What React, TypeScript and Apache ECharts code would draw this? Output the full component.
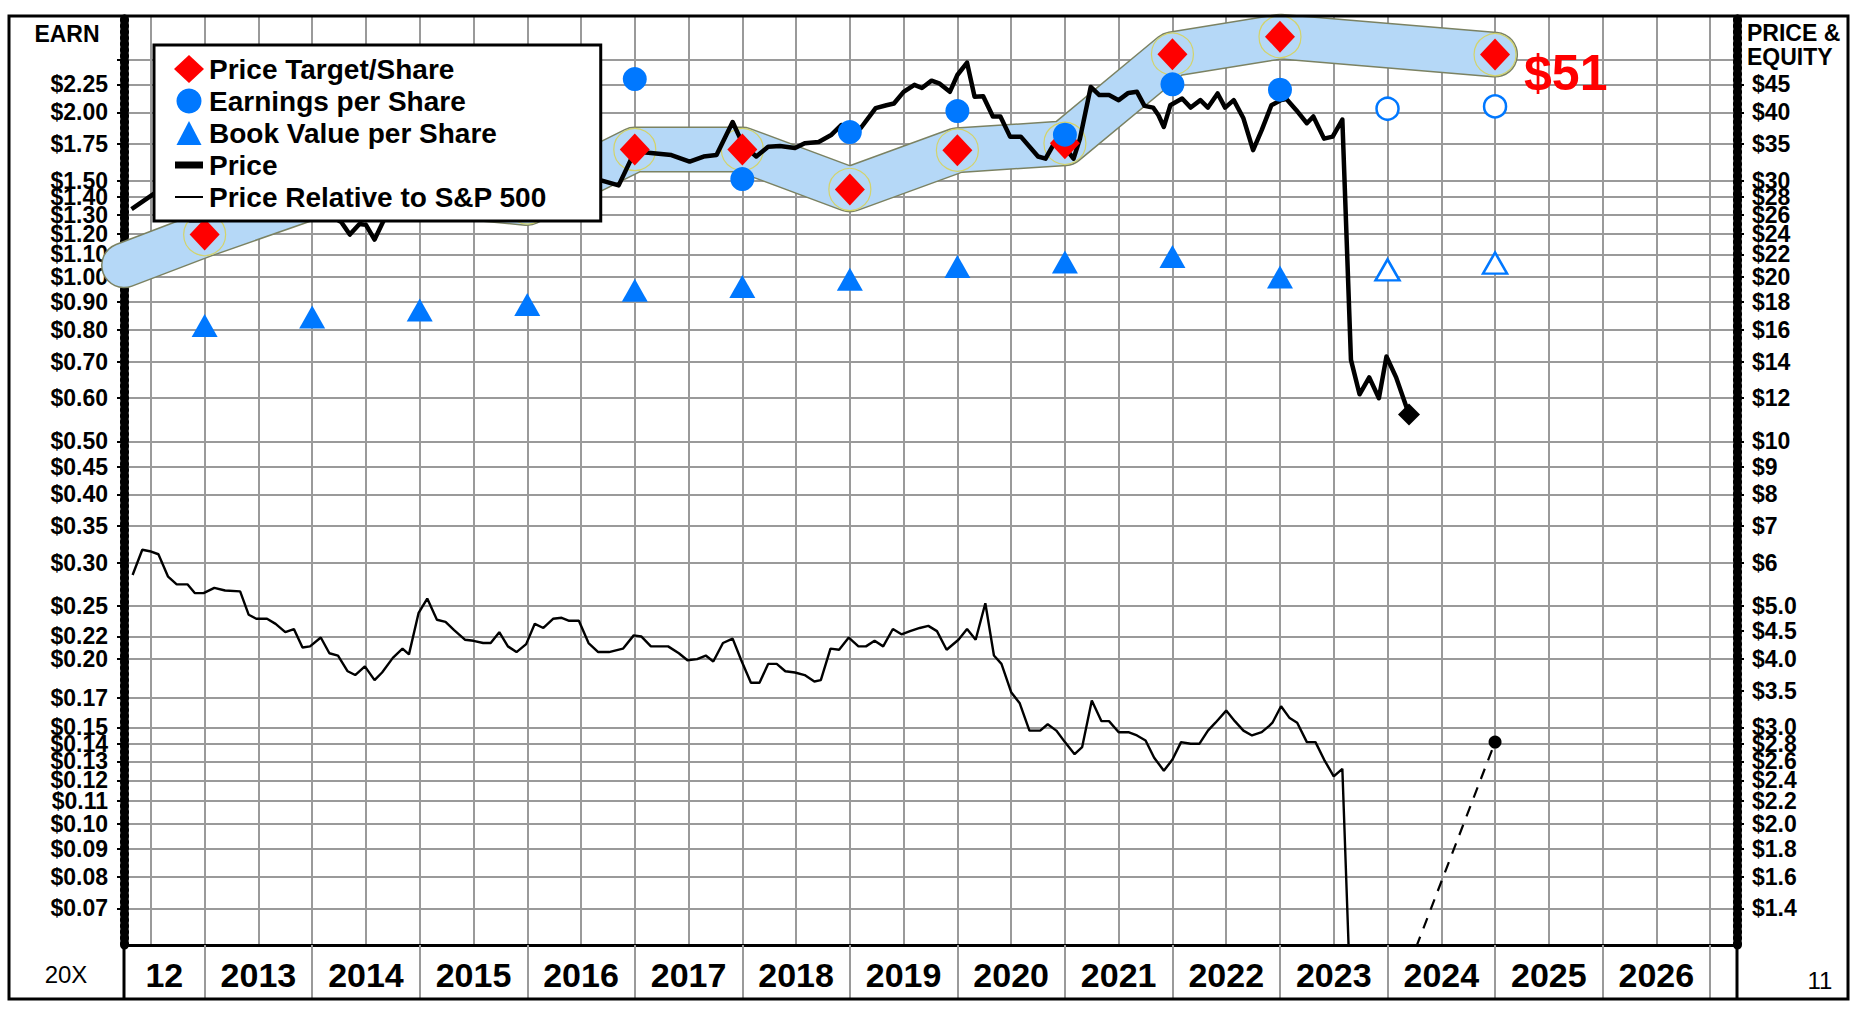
import React, { useEffect, useRef } from 'react';
import * as echarts from 'echarts';

const FONT = "'Liberation Sans', Arial, Helvetica, sans-serif";

// ---------- data ----------
const priceYears = [
  2012.32, 2012.54, 2012.7, 2012.86, 2012.98, 2013.15, 2013.4, 2013.66, 2013.8, 2013.98,
  2014.12, 2014.27, 2014.35, 2014.44, 2014.5, 2014.58, 2014.67, 2014.8, 2015.0, 2015.25,
  2015.5, 2015.75, 2016.0, 2016.25, 2016.5, 2016.67, 2016.85, 2017.0, 2017.15, 2017.34,
  2017.51, 2017.64, 2017.76, 2017.91, 2018.01, 2018.13, 2018.24, 2018.35, 2018.49, 2018.58,
  2018.71, 2018.83, 2018.92, 2019.1, 2019.24, 2019.34, 2019.41, 2019.5, 2019.6, 2019.67,
  2019.76, 2019.83, 2019.93, 2020.0, 2020.09, 2020.16, 2020.24, 2020.33, 2020.4, 2020.49,
  2020.59, 2020.75, 2020.82, 2020.9, 2020.99, 2021.08, 2021.14, 2021.24, 2021.32, 2021.41,
  2021.5, 2021.59, 2021.67, 2021.74, 2021.82, 2021.87, 2021.92, 2021.98, 2022.09, 2022.17,
  2022.26, 2022.33, 2022.42, 2022.49, 2022.57, 2022.66, 2022.75, 2022.83, 2022.92, 2023.01,
  2023.06, 2023.15, 2023.25, 2023.31, 2023.41, 2023.49, 2023.58, 2023.66, 2023.74, 2023.83,
  2023.92, 2023.99, 2024.08, 2024.2,
];
const priceValues = [
  26.6, 28.5, 27.3, 25.4, 25.4, 26.6, 26.4, 25.6, 25.9, 25.5,
  26.2, 25.2, 23.9, 25.0, 24.9, 23.4, 25.5, 27.5, 28.6, 29.6,
  28.2, 29.1, 28.4, 30.3, 31.0, 30.1, 29.4, 33.9, 33.7, 33.4,
  32.5, 33.2, 33.4, 38.4, 34.8, 33.2, 34.6, 34.7, 34.4, 35.1,
  35.3, 36.4, 37.9, 37.4, 40.7, 41.2, 41.5, 43.6, 44.9, 44.3,
  45.7, 45.2, 43.6, 46.8, 49.3, 42.7, 42.8, 39.3, 39.3, 36.1,
  36.1, 33.2, 32.9, 35.1, 34.7, 32.9, 35.8, 44.5, 43.0, 43.0,
  42.1, 43.4, 43.6, 41.1, 40.8, 39.5, 37.6, 41.2, 42.4, 40.8,
  42.1, 40.8, 43.3, 40.8, 42.1, 39.0, 34.1, 37.1, 41.2, 42.1,
  42.3, 40.4, 38.2, 39.3, 35.8, 36.1, 38.8, 14.1, 12.2, 13.1,
  12.0, 14.3, 13.1, 11.2,
];

const relYears = [
  2012.33, 2012.42, 2012.49, 2012.57, 2012.66, 2012.74, 2012.84, 2012.91, 2012.99, 2013.09,
  2013.19, 2013.33, 2013.41, 2013.48, 2013.58, 2013.66, 2013.75, 2013.83, 2013.91, 2013.98,
  2014.08, 2014.16, 2014.24, 2014.33, 2014.4, 2014.49, 2014.58, 2014.65, 2014.75, 2014.84,
  2014.9, 2014.99, 2015.07, 2015.16, 2015.24, 2015.32, 2015.42, 2015.5, 2015.59, 2015.66,
  2015.74, 2015.82, 2015.9, 2015.99, 2016.07, 2016.15, 2016.24, 2016.32, 2016.39, 2016.48,
  2016.57, 2016.66, 2016.76, 2016.89, 2016.99, 2017.06, 2017.15, 2017.31, 2017.41, 2017.49,
  2017.58, 2017.66, 2017.73, 2017.82, 2017.91, 2017.99, 2018.08, 2018.16, 2018.24, 2018.32,
  2018.4, 2018.49, 2018.58, 2018.67, 2018.73, 2018.82, 2018.9, 2018.99, 2019.08, 2019.15,
  2019.23, 2019.31, 2019.4, 2019.48, 2019.56, 2019.65, 2019.73, 2019.81, 2019.9, 2020.01,
  2020.09, 2020.17, 2020.26, 2020.34, 2020.41, 2020.5, 2020.58, 2020.67, 2020.77, 2020.84,
  2020.92, 2021.0, 2021.09, 2021.16, 2021.25, 2021.34, 2021.41, 2021.5, 2021.59, 2021.67,
  2021.75, 2021.83, 2021.92, 2022.0, 2022.08, 2022.17, 2022.25, 2022.33, 2022.4, 2022.5,
  2022.58, 2022.66, 2022.74, 2022.83, 2022.9, 2022.93, 2023.01, 2023.09, 2023.16, 2023.25,
  2023.33, 2023.41, 2023.5, 2023.58, 2023.66, 2023.75, 2023.85, 2023.95, 2024.05, 2024.2,
];
const relValues = [
  0.285, 0.317, 0.315, 0.311, 0.283, 0.274, 0.274, 0.264, 0.264, 0.27,
  0.267, 0.266, 0.241, 0.237, 0.237, 0.232, 0.224, 0.227, 0.21, 0.211,
  0.219, 0.205, 0.203, 0.19, 0.187, 0.194, 0.183, 0.189, 0.201, 0.209,
  0.204, 0.243, 0.258, 0.236, 0.234, 0.226, 0.217, 0.216, 0.214, 0.214,
  0.224, 0.211, 0.206, 0.213, 0.232, 0.228, 0.237, 0.238, 0.235, 0.235,
  0.214, 0.206, 0.206, 0.209, 0.221, 0.22, 0.211, 0.211, 0.205, 0.199,
  0.2, 0.203, 0.198, 0.214, 0.218, 0.199, 0.181, 0.181, 0.196, 0.196,
  0.19, 0.189, 0.187, 0.182, 0.183, 0.209, 0.208, 0.219, 0.211, 0.211,
  0.216, 0.211, 0.227, 0.222, 0.225, 0.228, 0.23, 0.225, 0.208, 0.217,
  0.227, 0.217, 0.253, 0.203, 0.196, 0.174, 0.166, 0.148, 0.148, 0.152,
  0.148, 0.141, 0.134, 0.138, 0.168, 0.154, 0.154, 0.147, 0.147, 0.145,
  0.142, 0.132, 0.125, 0.131, 0.141, 0.14, 0.14, 0.148, 0.153, 0.161,
  0.154, 0.148, 0.145, 0.147, 0.151, 0.153, 0.164, 0.156, 0.153, 0.141,
  0.141, 0.131, 0.122, 0.126, 0.045, 0.05, 0.047, 0.052, 0.05, 0.055,
];
const relTargetYear = 2025;
const relTargetValue = 0.141;

const bandStartYear = 2012.25;
const bandStartValue = 21.0;
const targetYears = [2013, 2014, 2015, 2016, 2017, 2018, 2019, 2020, 2021, 2022, 2023, 2025];
const targetValues = [23.9, 28.0, 28.5, 27.3, 34.2, 34.2, 28.9, 34.1, 35.1, 51.1, 55.0, 51.0];

const epsYears = [2017, 2018, 2019, 2020, 2021, 2022, 2023];
const epsValues = [2.3, 1.51, 1.84, 2.01, 1.82, 2.25, 2.2];
const epsEstYears = [2024, 2025];
const epsEstValues = [2.03, 2.05];

const bvYears = [2013, 2014, 2015, 2016, 2017, 2018, 2019, 2020, 2021, 2022, 2023];
const bvValues = [16.3, 16.9, 17.4, 17.8, 18.9, 19.2, 19.8, 20.9, 21.3, 21.8, 20.0];
const bvEstYears = [2024, 2025];
const bvEstValues = [20.6, 21.2];

const xLabelPositions = [2012.625, 2013.5, 2014.5, 2015.5, 2016.5, 2017.5, 2018.5, 2019.5, 2020.5, 2021.5, 2022.5, 2023.5, 2024.5, 2025.5, 2026.5];
const xLabelTexts = ['12', '2013', '2014', '2015', '2016', '2017', '2018', '2019', '2020', '2021', '2022', '2023', '2024', '2025', '2026'];
const yearBoundaries = [2013, 2014, 2015, 2016, 2017, 2018, 2019, 2020, 2021, 2022, 2023, 2024, 2025, 2026, 2027];
const halfYearLines = [2012.5, 2013, 2013.5, 2014, 2014.5, 2015, 2015.5, 2016, 2016.5, 2017, 2017.5, 2018, 2018.5, 2019, 2019.5, 2020, 2020.5, 2021, 2021.5, 2022, 2022.5, 2023, 2023.5, 2024, 2024.5, 2025, 2025.5, 2026, 2026.5, 2027];

const leftLabelVals = [2.25, 2.0, 1.75, 1.5, 1.4, 1.3, 1.2, 1.1, 1.0, 0.9, 0.8, 0.7, 0.6, 0.5, 0.45, 0.4, 0.35, 0.3, 0.25, 0.22, 0.2, 0.17, 0.15, 0.14, 0.13, 0.12, 0.11, 0.1, 0.09, 0.08, 0.07];
const leftGridVals = [2.5, ...leftLabelVals];
const rightLabelVals = [45, 40, 35, 30, 28, 26, 24, 22, 20, 18, 16, 14, 12, 10, 9, 8, 7, 6, 5, 4.5, 4, 3.5, 3, 2.8, 2.6, 2.4, 2.2, 2, 1.8, 1.6, 1.4];

const pairs = (xs: number[], ys: number[]) => xs.map((x, i) => [x, ys[i]]);

const BLUE = '#0078ff';
const RED = '#ff0000';
const GRID = '#9a9a9a';

export default function App() {
  const ref = useRef<HTMLDivElement>(null);

  useEffect(() => {
    const chart = echarts.init(ref.current!, null, { renderer: 'svg' });

    const pricePairs = pairs(priceYears, priceValues);
    const relPairs = pairs(relYears, relValues);
    const targetPairs = pairs(targetYears, targetValues);
    const bandData = [[bandStartYear, bandStartValue], ...targetPairs];
    const lastRel = relPairs[relPairs.length - 1];
    const lastPrice = pricePairs[pricePairs.length - 1];

    const targetData = targetPairs.map((p, i) =>
      i === targetPairs.length - 1
        ? {
            value: p,
            label: {
              show: true,
              position: 'right',
              distance: 14,
              offset: [0, 18],
              formatter: (prm: any) => '$' + Math.round(prm.value[1]),
              fontSize: 50,
              fontWeight: 'bold',
              color: RED,
              fontFamily: FONT,
            },
          }
        : { value: p }
    );

    const yBase = (min: number, max: number, pos: string) => ({
      type: 'log',
      logBase: 10,
      min,
      max,
      position: pos,
    });

    const option: any = {
      animation: false,
      backgroundColor: '#ffffff',
      grid: { left: 124, top: 16, right: 119, bottom: 67, containLabel: false, outerBoundsMode: 'none' },
      legend: {
        show: true,
        orient: 'vertical',
        left: 154,
        top: 45,
        z: 20,
        selectedMode: false,
        backgroundColor: '#ffffff',
        borderColor: '#000000',
        borderWidth: 3,
        borderRadius: 0,
        padding: [10, 54, 10, 20],
        itemGap: 4,
        itemWidth: 30,
        itemHeight: 28,
        textStyle: { fontSize: 28, fontWeight: 'bold', color: '#000', fontFamily: FONT },
        data: [
          { name: 'Price Target/Share', icon: 'diamond', itemStyle: { color: RED, opacity: 1 } },
          { name: 'Earnings per Share', icon: 'path://M0,0M30,28M15,1.5A12.5,12.5,0,1,1,14.99,1.5Z', itemStyle: { color: BLUE, opacity: 1 } },
          { name: 'Book Value per Share', icon: 'path://M0,0M30,28M15,2L27.5,26L2.5,26Z', itemStyle: { color: BLUE, opacity: 1 } },
          { name: 'Price', icon: 'path://M0,0M30,28M1,10.5L29,10.5L29,17.5L1,17.5Z' },
          { name: 'Price Relative to S&P 500', icon: 'path://M0,0M30,28M1,13L29,13L29,15L1,15Z' },
        ],
      },
      xAxis: [
        {
          type: 'value',
          min: 2012.25,
          max: 2027.25,
          position: 'bottom',
          axisLine: { show: true, onZero: false, lineStyle: { color: '#000', width: 3 } },
          axisTick: { show: false, customValues: halfYearLines },
          axisLabel: {
            show: true,
            customValues: xLabelPositions,
            formatter: (v: number) => xLabelTexts[xLabelPositions.indexOf(v)] ?? '',
            fontSize: 34,
            fontWeight: 'bold',
            color: '#000',
            fontFamily: FONT,
            margin: 30,
            verticalAlign: 'middle',
          },
          splitLine: { show: true, lineStyle: { color: GRID, width: 2 } },
        },
        {
          type: 'value',
          min: 2012.25,
          max: 2027.25,
          position: 'bottom',
          axisLine: { show: false, onZero: false },
          axisTick: { show: true, customValues: yearBoundaries, length: 54, lineStyle: { color: GRID, width: 2 } },
          axisLabel: { show: false },
          splitLine: { show: false },
        },
      ],
      yAxis: [
        {
          ...yBase(0.06, 3, 'left'),
          axisLine: { show: true, lineStyle: { color: '#000', width: 3 } },
          axisTick: { show: true, customValues: leftGridVals, length: 7, lineStyle: { color: '#000', width: 2 } },
          axisLabel: {
            show: true,
            customValues: leftLabelVals,
            formatter: (v: number) => '$' + v.toFixed(2),
            fontSize: 23,
            fontWeight: 'bold',
            color: '#000',
            fontFamily: FONT,
            margin: 16,
          },
          splitLine: { show: true, lineStyle: { color: GRID, width: 2 } },
        },
        {
          ...yBase(1.2, 60, 'right'),
          axisLine: { show: true, lineStyle: { color: '#000', width: 3 } },
          axisTick: { show: true, customValues: rightLabelVals, length: 7, lineStyle: { color: '#000', width: 2 } },
          axisLabel: {
            show: true,
            customValues: rightLabelVals,
            formatter: (v: number) => (v >= 6 ? '$' + Math.round(v) : '$' + v.toFixed(1)),
            fontSize: 23,
            fontWeight: 'bold',
            color: '#000',
            fontFamily: FONT,
            margin: 15,
          },
          splitLine: { show: false },
        },
        {
          ...yBase(0.06, 3, 'left'),
          axisLine: { show: true, lineStyle: { color: '#000', width: 9, type: [2, 4] } },
          axisTick: { show: false },
          axisLabel: { show: false },
          splitLine: { show: false },
        },
        {
          ...yBase(1.2, 60, 'right'),
          axisLine: { show: true, lineStyle: { color: '#000', width: 9, type: [2, 4] } },
          axisTick: { show: false },
          axisLabel: { show: false },
          splitLine: { show: false },
        },
      ],
      series: [
        {
          name: 'band-edge',
          type: 'line',
          yAxisIndex: 1,
          data: bandData,
          symbol: 'none',
          clip: false,
          silent: true,
          z: 1,
          lineStyle: { width: 46, color: '#7b8262', cap: 'round', join: 'round' },
        },
        {
          name: 'band-fill',
          type: 'line',
          yAxisIndex: 1,
          data: bandData,
          symbol: 'none',
          clip: false,
          silent: true,
          z: 1,
          lineStyle: { width: 43, color: '#b5d8f7', cap: 'round', join: 'round' },
        },
        {
          name: 'target-ring',
          type: 'scatter',
          yAxisIndex: 1,
          data: targetPairs,
          symbol: 'circle',
          symbolSize: 42,
          silent: true,
          z: 1.5,
          itemStyle: { color: 'rgba(0,0,0,0)', borderColor: '#d3d36a', borderWidth: 1.2, opacity: 1 },
        },
        {
          name: 'Price Relative to S&P 500',
          type: 'line',
          yAxisIndex: 0,
          data: relPairs,
          symbol: 'none',
          silent: true,
          z: 3,
          lineStyle: { width: 2.4, color: '#000' },
          itemStyle: { color: '#000' },
        },
        {
          name: 'rel-projection',
          type: 'line',
          yAxisIndex: 0,
          data: [lastRel, [relTargetYear, relTargetValue]],
          symbol: 'none',
          silent: true,
          z: 3,
          lineStyle: { width: 2.2, color: '#000', type: [11, 9] },
        },
        {
          name: 'rel-target',
          type: 'scatter',
          yAxisIndex: 0,
          data: [[relTargetYear, relTargetValue]],
          symbol: 'circle',
          symbolSize: 13,
          silent: true,
          z: 3,
          itemStyle: { color: '#000', opacity: 1 },
        },
        {
          name: 'Price',
          type: 'line',
          yAxisIndex: 1,
          data: pricePairs,
          symbol: 'none',
          silent: true,
          z: 3,
          lineStyle: { width: 4.5, color: '#000', join: 'round' },
          itemStyle: { color: '#000' },
        },
        {
          name: 'price-end',
          type: 'scatter',
          yAxisIndex: 1,
          data: [lastPrice],
          symbol: 'diamond',
          symbolSize: 22,
          silent: true,
          z: 4,
          itemStyle: { color: '#000', opacity: 1 },
        },
        {
          name: 'Price Target/Share',
          type: 'scatter',
          yAxisIndex: 1,
          data: targetData,
          symbol: 'diamond',
          symbolSize: [30, 32],
          silent: true,
          z: 4,
          itemStyle: { color: RED, opacity: 1 },
        },
        {
          name: 'Book Value per Share',
          type: 'scatter',
          yAxisIndex: 1,
          data: pairs(bvYears, bvValues),
          symbol: 'triangle',
          symbolSize: [26, 23],
          silent: true,
          z: 5,
          itemStyle: { color: BLUE, opacity: 1 },
        },
        {
          name: 'bv-estimate',
          type: 'scatter',
          yAxisIndex: 1,
          data: pairs(bvEstYears, bvEstValues),
          symbol: 'triangle',
          symbolSize: [24, 21],
          silent: true,
          z: 5,
          itemStyle: { color: '#ffffff', borderColor: BLUE, borderWidth: 2.5, opacity: 1 },
        },
        {
          name: 'Earnings per Share',
          type: 'scatter',
          yAxisIndex: 0,
          data: pairs(epsYears, epsValues),
          symbol: 'circle',
          symbolSize: 24,
          silent: true,
          z: 5,
          itemStyle: { color: BLUE, opacity: 1 },
        },
        {
          name: 'eps-estimate',
          type: 'scatter',
          yAxisIndex: 0,
          data: pairs(epsEstYears, epsEstValues),
          symbol: 'circle',
          symbolSize: 22,
          silent: true,
          z: 5,
          itemStyle: { color: '#ffffff', borderColor: BLUE, borderWidth: 2.5, opacity: 1 },
        },
      ],
      graphic: [
        {
          type: 'rect',
          z: 50,
          silent: true,
          shape: { x: 9, y: 16, width: 1839, height: 983 },
          style: { fill: 'none', stroke: '#000', lineWidth: 3 },
        },
        {
          type: 'line',
          z: 50,
          silent: true,
          shape: { x1: 124, y1: 945, x2: 124, y2: 999 },
          style: { stroke: '#000', lineWidth: 3 },
        },
        {
          type: 'line',
          z: 50,
          silent: true,
          shape: { x1: 1737, y1: 945, x2: 1737, y2: 999 },
          style: { stroke: '#000', lineWidth: 3 },
        },
        {
          type: 'text',
          z: 50,
          silent: true,
          x: 67,
          y: 34,
          style: { text: 'EARN', fontSize: 23, fontWeight: 'bold', fill: '#000', fontFamily: FONT, align: 'center', verticalAlign: 'middle' },
        },
        {
          type: 'text',
          z: 50,
          silent: true,
          x: 1747,
          y: 33,
          style: { text: 'PRICE &', fontSize: 23, fontWeight: 'bold', fill: '#000', fontFamily: FONT, align: 'left', verticalAlign: 'middle' },
        },
        {
          type: 'text',
          z: 50,
          silent: true,
          x: 1747,
          y: 57,
          style: { text: 'EQUITY', fontSize: 23, fontWeight: 'bold', fill: '#000', fontFamily: FONT, align: 'left', verticalAlign: 'middle' },
        },
        {
          type: 'text',
          z: 50,
          silent: true,
          x: 66,
          y: 974,
          style: { text: '20X', fontSize: 24, fill: '#000', fontFamily: FONT, align: 'center', verticalAlign: 'middle' },
        },
        {
          type: 'text',
          z: 50,
          silent: true,
          x: 1820,
          y: 980,
          style: { text: '11', fontSize: 24, fill: '#000', fontFamily: FONT, align: 'center', verticalAlign: 'middle' },
        },
      ],
    };

    chart.setOption(option);
    return () => chart.dispose();
  }, []);

  return (
    <div
      ref={ref}
      style={{ position: 'fixed', left: 0, top: 0, width: 1856, height: 1012, background: '#fff' }}
    />
  );
}
